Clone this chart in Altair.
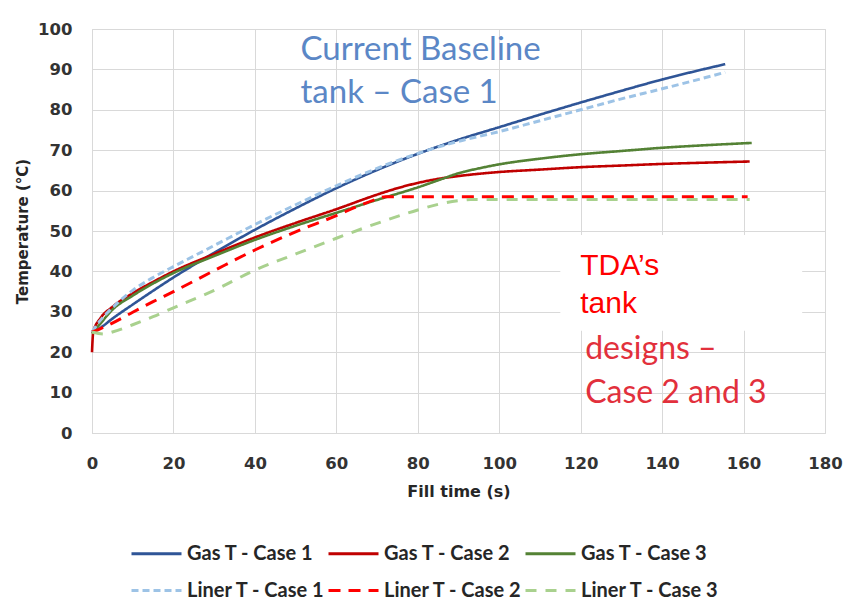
import altair as alt
import pandas as pd

# ---- series ----
SERIES = ["Gas T - Case 1", "Gas T - Case 2", "Gas T - Case 3",
          "Liner T - Case 1", "Liner T - Case 2", "Liner T - Case 3"]
COLORS = ["#2F5597", "#C00000", "#548235", "#9DC3E6", "#FF0000", "#A9D18E"]
DASHES = [[1, 0], [1, 0], [1, 0], [7, 4], [12, 8], [11, 9]]

GAS1_X = [0, 2, 5, 10, 15, 20, 25, 30, 40, 50, 60, 70, 80, 90, 100, 110, 120, 130, 140, 150, 155.5]
GAS1_Y = [25, 26, 28.3, 31.8, 35.2, 38.5, 41.6, 44.6, 50.3, 55.6, 60.6, 65.1, 69.1, 72.6, 75.7, 78.8, 81.8, 84.7, 87.5, 90.0, 91.3]

GAS2_X = [0, 0.3, 2, 5, 10, 15, 20, 30, 40, 50, 60, 70, 75, 80, 85, 90, 100, 110, 120, 130, 140, 150, 161.5]
GAS2_Y = [20, 25, 28.3, 31.2, 34.6, 37.4, 40.0, 44.3, 48.4, 52.0, 55.4, 59.0, 60.6, 61.9, 62.9, 63.6, 64.6, 65.2, 65.8, 66.2, 66.6, 66.9, 67.2]

GAS3_X = [0, 2, 5, 10, 15, 20, 30, 40, 50, 60, 70, 80, 86, 90, 95, 100, 110, 120, 130, 140, 150, 162]
GAS3_Y = [24.6, 27.0, 30.5, 34.0, 37.0, 39.6, 43.8, 47.8, 51.3, 54.5, 57.7, 60.8, 62.9, 64.3, 65.5, 66.5, 67.9, 69.0, 69.8, 70.6, 71.2, 71.8]

LINER1_X = [0, 2, 5, 10, 15, 20, 25, 30, 40, 50, 60, 70, 80, 90, 100, 110, 120, 130, 140, 150, 155.5]
LINER1_Y = [25, 27.8, 31, 35.3, 38.5, 41.2, 43.8, 46.4, 51.6, 56.5, 61.2, 65.5, 69.2, 72.2, 74.6, 77.3, 80.0, 82.7, 85.2, 87.8, 89.3]

LINER2_X = [0, 2, 5, 10, 15, 20, 30, 40, 50, 60, 65, 70, 72, 100, 130, 161]
LINER2_Y = [25, 25.8, 27.2, 29.9, 32.5, 35.0, 40.2, 45.3, 49.8, 53.8, 56.0, 57.9, 58.5, 58.5, 58.5, 58.5]

LINER3_X = [0, 3, 5, 10, 15, 20, 30, 40, 50, 60, 70, 80, 85, 90, 93, 120, 161.5]
LINER3_Y = [25, 24.5, 25.0, 26.8, 28.8, 31.0, 35.3, 40.3, 44.3, 48.2, 51.9, 55.2, 56.6, 57.5, 57.8, 57.8, 57.8]

SERIES_X = [GAS1_X, GAS2_X, GAS3_X, LINER1_X, LINER2_X, LINER3_X]
SERIES_Y = [GAS1_Y, GAS2_Y, GAS3_Y, LINER1_Y, LINER2_Y, LINER3_Y]

X_TICKS = list(range(0, 181, 20))
Y_TICKS = list(range(0, 101, 10))

# ---- annotations ----
BLUE_TEXT = ["Current Baseline", "tank \u2013 Case 1"]
BLUE_X = [51.2, 51.2]
BLUE_Y = [92.3, 81.7]

TDA_TEXT = ["TDA\u2019s", "tank"]
TDA_X = [119.9, 119.9]
TDA_Y = [39.2, 29.7]

DES_TEXT = ["designs \u2013", "Case 2 and 3"]
DES_X = [121.1, 121.1]
DES_Y = [18.3, 7.4]

BOX_X = [115.0]
BOX_X2 = [174.4]
BOX_Y = [25.3]
BOX_Y2 = [49.0]

rows = []
for name, xs, ys in zip(SERIES, SERIES_X, SERIES_Y):
    for xv, yv in zip(xs, ys):
        rows.append({"series": name, "x": xv, "y": yv})
df = pd.DataFrame(rows)

GRID = "#D9D9D9"
AXIS_FONT = "DejaVu Sans"
xscale = alt.Scale(domain=[0, 180], nice=False)
yscale = alt.Scale(domain=[0, 100], nice=False)

X_ENC = alt.X("x:Q", scale=xscale, title="Fill time (s)",
              axis=alt.Axis(values=X_TICKS, labelPadding=22, titlePadding=12,
                            labelFlush=False, titleFontSize=16))
Y_ENC = alt.Y("y:Q", scale=yscale, title="Temperature (\u00b0C)",
              axis=alt.Axis(values=Y_TICKS, labelPadding=20, titlePadding=7,
                            labelFlush=False, titleFontSize=15))

legend = alt.Legend(
    title=None, orient="none", legendX=38, legendY=498, columns=3, direction="horizontal",
    symbolType="stroke", symbolSize=2500, symbolStrokeWidth=3,
    labelFont="Lato", labelFontSize=20, labelFontWeight="bold",
    labelColor="#262626", labelOffset=4, columnPadding=-4, rowPadding=-8,
    gridAlign="all", labelLimit=300,
)
COLOR_ENC = alt.Color("series:N", scale=alt.Scale(domain=SERIES, range=COLORS), legend=legend)
DASH_ENC = alt.StrokeDash("series:N", scale=alt.Scale(domain=SERIES, range=DASHES), legend=legend)

line_layers = []
for name in SERIES:
    sw = 3.0 if "Liner" in name else 2.6
    line_layers.append(
        alt.Chart(df).transform_filter(alt.datum.series == name)
        .mark_line(strokeWidth=sw, interpolate="monotone")
        .encode(x=X_ENC, y=Y_ENC, color=COLOR_ENC, strokeDash=DASH_ENC,
                order=alt.Order("x:Q"))
    )

box = alt.Chart(pd.DataFrame({"x": BOX_X, "x2": BOX_X2, "y": BOX_Y, "y2": BOX_Y2})).mark_rect(
    color="white").encode(x=X_ENC, x2="x2:Q", y=Y_ENC, y2="y2:Q")

blue_txt = alt.Chart(pd.DataFrame({"x": BLUE_X, "y": BLUE_Y, "t": BLUE_TEXT})).mark_text(
    align="left", baseline="alphabetic", font="Lato", fontSize=33, color="#5B87C6"
).encode(x=X_ENC, y=Y_ENC, text="t:N")

tda_txt = alt.Chart(pd.DataFrame({"x": TDA_X, "y": TDA_Y, "t": TDA_TEXT})).mark_text(
    align="left", baseline="alphabetic", font="Liberation Sans", fontSize=30, color="#FF0000"
).encode(x=X_ENC, y=Y_ENC, text="t:N")

des_txt = alt.Chart(pd.DataFrame({"x": DES_X, "y": DES_Y, "t": DES_TEXT})).mark_text(
    align="left", baseline="alphabetic", font="Lato", fontSize=32, color="#E2303C"
).encode(x=X_ENC, y=Y_ENC, text="t:N")

top_rule = alt.Chart(alt.Data(values=[{}])).mark_rule(color="#A6A6A6", strokeWidth=1).encode(
    x=alt.value(-92), x2=alt.value(770), y=alt.value(-23))

chart = alt.layer(top_rule, *line_layers, box, blue_txt, tda_txt, des_txt).properties(
    width=733, height=404,
    autosize=alt.AutoSizeParams(type="none"),
    padding={"left": 84, "top": 21, "right": 20, "bottom": 170},
).configure_view(stroke=GRID).configure_axis(
    grid=True, gridColor=GRID, gridWidth=1, domainColor=GRID, ticks=False,
    labelFont=AXIS_FONT, labelFontSize=16.5, labelFontWeight="bold", labelColor="#333333",
    titleFont=AXIS_FONT, titleFontWeight="bold", titleColor="#262626",
)

chart.save("out.html", embed_options={"renderer": "svg", "actions": False})
